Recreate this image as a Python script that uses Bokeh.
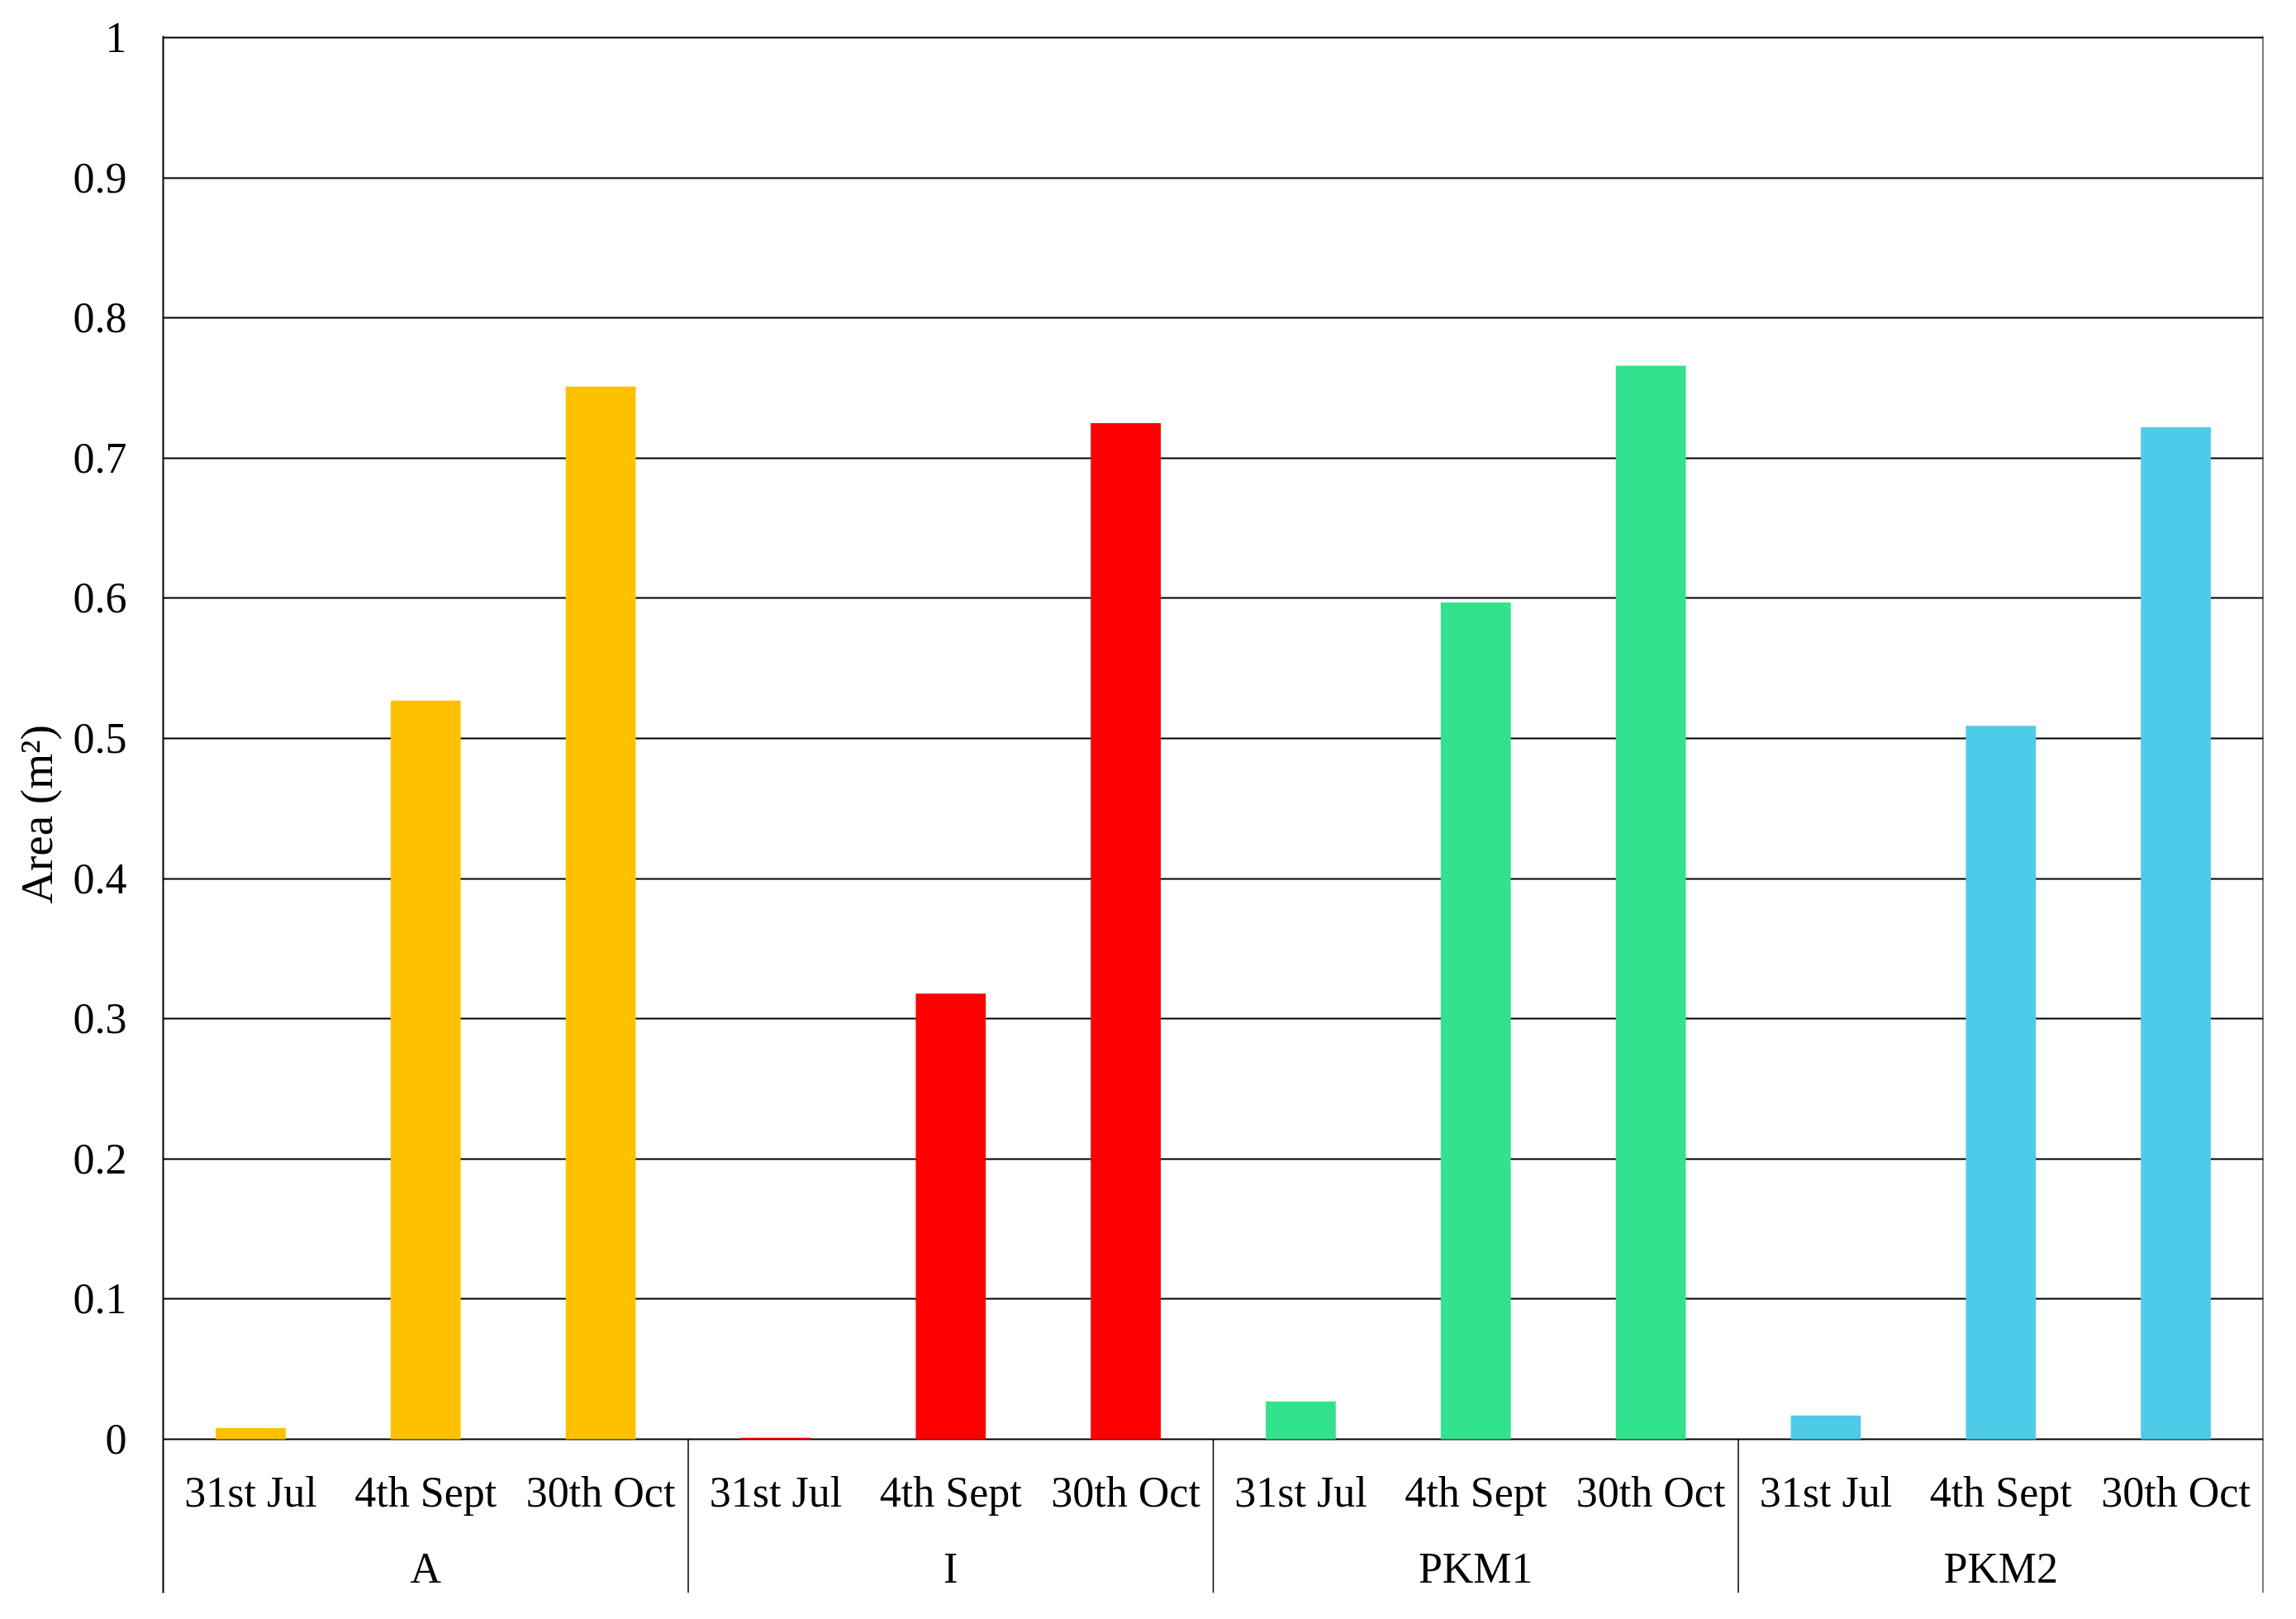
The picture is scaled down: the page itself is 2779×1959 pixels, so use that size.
from bokeh.plotting import figure
from bokeh.models import FactorRange, Range1d, FixedTicker, CustomJSTickFormatter, ColumnDataSource
from bokeh.core.properties import value
from bokeh.embed import file_html
from bokeh.resources import INLINE

# ---- data ----
groups = ["A", "I", "PKM1", "PKM2"]
dates = ["31st Jul", "4th Sept", "30th Oct"]
area_A = [0.008, 0.527, 0.751]
area_I = [0.001, 0.318, 0.725]
area_PKM1 = [0.027, 0.597, 0.766]
area_PKM2 = [0.017, 0.509, 0.722]
group_colors = ["#FFC000", "#FF0000", "#33E28C", "#4FCBEA"]
y_ticks = [0, 0.1, 0.2, 0.3, 0.4, 0.5, 0.6, 0.7, 0.8, 0.9, 1.0]

series = [area_A, area_I, area_PKM1, area_PKM2]
factors = [(g, d) for g in groups for d in dates]
vals = [v for s in series for v in s]
cols = [c for c in group_colors for _ in dates]

FONT = "Liberation Serif"
FS = "52px"

x_range = FactorRange(*factors, factor_padding=0, group_padding=0, range_padding=0)
y_range = Range1d(-0.1097, 1.0012)

p = figure(x_range=x_range, y_range=y_range, output_backend="svg", toolbar_location=None,
           width=2763, height=1943, frame_width=2542, frame_height=1884,
           min_border_left=197, min_border_top=43, min_border_right=24, min_border_bottom=16)
p.background_fill_color = "white"
p.border_fill_color = "white"
p.outline_line_color = None

src = ColumnDataSource(dict(x=factors, top=vals, color=cols))
p.vbar(x="x", top="top", bottom=0, width=0.4, fill_color="color", line_color=None, source=src)

# x axis drawn inside the extended frame
p.xaxis.visible = False
p.xgrid.visible = False

date_src = ColumnDataSource(dict(x=factors, y=[-0.0377] * len(factors), t=[f[1] for f in factors]))
p.text(x="x", y="y", text="t", source=date_src, text_font=value(FONT), text_font_size=FS,
       text_align="center", text_baseline="middle", text_color="black")
grp_src = ColumnDataSource(dict(x=[(g, dates[1]) for g in groups], y=[-0.092] * len(groups), t=groups))
p.text(x="x", y="y", text="t", source=grp_src, text_font=value(FONT), text_font_size=FS,
       text_align="center", text_baseline="middle", text_color="black")

# group separators
bounds = list(range(0, len(factors) + 1, len(dates)))
p.segment(x0=bounds[1:-1], y0=[0] * (len(bounds) - 2), x1=bounds[1:-1], y1=[-0.1097] * (len(bounds) - 2),
          line_color="black", line_width=1.5)
p.segment(x0=[bounds[-1]], y0=[-0.1097], x1=[bounds[-1]], y1=[1.0012], line_color="black", line_width=2)

# y axis
p.yaxis.ticker = FixedTicker(ticks=y_ticks)
p.yaxis.formatter = CustomJSTickFormatter(code="return tick.toFixed(1).replace(/\\.0$/, '');")
p.yaxis.major_tick_line_color = None
p.yaxis.minor_tick_line_color = None
p.yaxis.axis_line_color = "black"
p.yaxis.axis_line_width = 2
p.yaxis.major_label_standoff = 38
p.yaxis.major_label_text_font = FONT
p.yaxis.major_label_text_font_size = FS
p.yaxis.major_label_text_color = "black"
p.yaxis.axis_label = "Area (m²)"
p.yaxis.axis_label_text_font = FONT
p.yaxis.axis_label_text_font_size = "55px"
p.yaxis.axis_label_text_font_style = "normal"
p.yaxis.axis_label_text_color = "black"
p.yaxis.axis_label_standoff = 11

p.ygrid.ticker = FixedTicker(ticks=y_ticks)
p.ygrid.grid_line_color = "black"
p.ygrid.grid_line_width = 2

open("out.html", "w").write(file_html(p, INLINE))
